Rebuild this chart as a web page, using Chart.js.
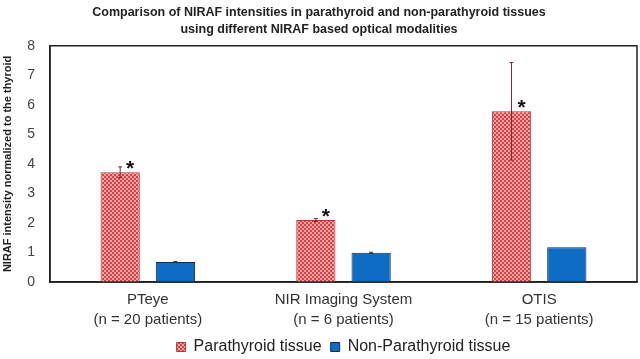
<!DOCTYPE html>
<html>
<head>
<meta charset="utf-8">
<script src="https://cdn.jsdelivr.net/npm/chart.js@4"></script>
<style>
  html, body { margin: 0; padding: 0; background: #fff; }
  #wrap { width: 640px; height: 359px; }
</style>
</head>
<body>
<div id="wrap"><canvas id="grafico"></canvas></div>
<script>
const categorias = [['PTeye', '(n = 20 patients)'], ['NIR Imaging System', '(n = 6 patients)'], ['OTIS', '(n = 15 patients)']]
const paratiroides = [3.72, 2.1, 5.78]
const paratiroidesErr = [0.18, 0.05, 1.65]
const noParatiroides = [0.68, 0.99, 1.18]
const noParatiroidesErr = [0.02, 0.02, 0]
const significativo = [true, true, true]

// patron cuadriculado rojo
function creaPatron() {
   const c = document.createElement('canvas')
   c.width = 4
   c.height = 4
   const p = c.getContext('2d')
   p.fillStyle = '#f2a6a6'
   p.fillRect(0, 0, 4, 4)
   p.fillStyle = '#dc3f43'
   p.fillRect(0, 0, 2, 2)
   p.fillRect(2, 2, 2, 2)
   return p.createPattern(c, 'repeat')
}
const patron = creaPatron()

const errores = {
   id: 'errores',
   afterDatasetsDraw(chart) {
      const ctx = chart.ctx
      const y = chart.scales.y
      const lista = [paratiroidesErr, noParatiroidesErr]
      ctx.save()
      chart.data.datasets.forEach((ds, i) => {
         const meta = chart.getDatasetMeta(i)
         meta.data.forEach((bar, j) => {
            const err = lista[i][j]
            if (!err) return
            const v = ds.data[j]
            const yt = y.getPixelForValue(v + err)
            const yb = y.getPixelForValue(v - err)
            ctx.strokeStyle = i === 0 ? '#7a2a2a' : '#333'
            ctx.lineWidth = 1
            ctx.beginPath()
            ctx.moveTo(bar.x, yt); ctx.lineTo(bar.x, yb)
            ctx.moveTo(bar.x - 2, yt); ctx.lineTo(bar.x + 2, yt)
            ctx.moveTo(bar.x - 2, yb); ctx.lineTo(bar.x + 2, yb)
            ctx.stroke()
         })
      })
      // asteriscos
      const meta = chart.getDatasetMeta(0)
      ctx.fillStyle = '#111'
      ctx.font = 'bold 21px "Liberation Sans", Arial, sans-serif'
      ctx.textAlign = 'center'
      meta.data.forEach((bar, j) => {
         if (!significativo[j]) return
         const v = paratiroides[j]
         ctx.fillText('*', bar.x + 10, y.getPixelForValue(v) - 3)
      })
      // marco del area
      const a = chart.chartArea
      ctx.strokeStyle = '#222'
      ctx.lineWidth = 1.5
      ctx.strokeRect(a.left, a.top, a.right - a.left, a.bottom - a.top)
      ctx.restore()
   }
}

const ctx = document.getElementById('grafico').getContext('2d')
new Chart(ctx, {
   type: 'bar',
   data: {
      labels: categorias,
      datasets: [{
         label: 'Parathyroid tissue',
         data: paratiroides,
         backgroundColor: patron,
         borderColor: '#b33a3a',
         borderWidth: 1,
         categoryPercentage: 0.565,
         barPercentage: 0.71
      }, {
         label: 'Non-Parathyroid tissue',
         data: noParatiroides,
         backgroundColor: '#0f6cc4',
         borderColor: '#0b2f5a',
         borderWidth: 1,
         categoryPercentage: 0.565,
         barPercentage: 0.71
      }]
   },
   options: {
      responsive: true,
      maintainAspectRatio: false,
      animation: false,
      layout: { padding: { left: 1, right: 3, top: 0, bottom: -6 } },
      plugins: {
         title: {
            display: true,
            text: ['Comparison of NIRAF intensities in parathyroid and non-parathyroid tissues', 'using different NIRAF based optical modalities'],
            color: '#222',
            font: { family: '"Liberation Sans", Arial, sans-serif', size: 12.5, weight: 'bold', lineHeight: 1.35 },
            padding: { top: 4, bottom: 8 }
         },
         legend: {
            position: 'bottom',
            fullSize: false,
            labels: {
               color: '#222',
               boxWidth: 9,
               boxHeight: 9,
               padding: 9,
               font: { family: '"Liberation Sans", Arial, sans-serif', size: 16 }
            }
         },
         tooltip: { enabled: false }
      },
      scales: {
         x: {
            grid: { display: false },
            border: { color: '#222', width: 1.5 },
            ticks: { color: '#333', padding: 0, font: { family: '"Liberation Sans", Arial, sans-serif', size: 15, lineHeight: 1.33 } }
         },
         y: {
            min: 0,
            max: 8,
            grid: { display: false },
            border: { color: '#222', width: 1.5 },
            ticks: { stepSize: 1, color: '#444', padding: 7, font: { family: '"Liberation Sans", Arial, sans-serif', size: 14 } },
            title: {
               display: true,
               text: 'NIRAF intensity normalized to the thyroid',
               color: '#222',
               padding: { top: 0, bottom: 6 },
               font: { family: '"Liberation Sans", Arial, sans-serif', size: 11, weight: 'bold' }
            }
         }
      }
   },
   plugins: [errores]
})
</script>
</body>
</html>
